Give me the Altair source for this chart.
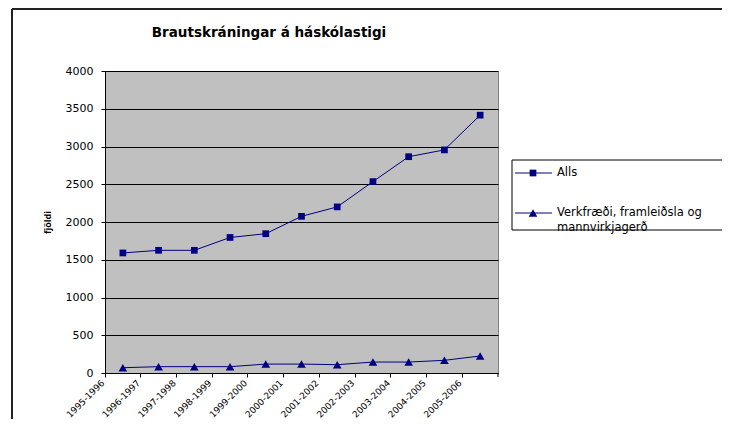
import altair as alt
import pandas as pd

title_text = "Brautskráningar á háskólastigi"
y_title = "fjöldi"
years = ["1995-1996", "1996-1997", "1997-1998", "1998-1999", "1999-2000", "2000-2001",
         "2001-2002", "2002-2003", "2003-2004", "2004-2005", "2005-2006"]
series_names = ["Alls", "Verkfræði, framleiðsla og mannvirkjagerð"]
alls = [1590, 1625, 1625, 1795, 1845, 2075, 2200, 2535, 2865, 2955, 3415]
verk = [70, 84, 84, 84, 118, 118, 110, 145, 145, 168, 225]
y_ticks = [0, 500, 1000, 1500, 2000, 2500, 3000, 3500, 4000]

df = pd.DataFrame({
    "year": years * 2,
    "value": alls + verk,
    "series": [series_names[0]] * len(years) + [series_names[1]] * len(years),
})

W, H = 393, 302
PAD_L, PAD_T, PAD_R, PAD_B = 97, 63, 224, 46
NAVY = "#000080"
one = pd.DataFrame({"k": [0]})

x_enc = alt.X("year:N", sort=years,
              scale=alt.Scale(type="band", paddingInner=0, paddingOuter=0),
              axis=alt.Axis(title=None, labelAngle=-45, labelAlign="right",
                            labelBaseline="middle", bandPosition=0, tickSize=4,
                            labelPadding=4, labelOffset=-20, domainColor="black",
                            tickColor="black", labelColor="black", labelFont="DejaVu Sans",
                            labelFontSize=9, grid=False, labelOverlap=False))
y_enc = alt.Y("value:Q", scale=alt.Scale(domain=[0, 4000], nice=False, zero=True),
              axis=alt.Axis(values=y_ticks, format="d", grid=True, gridColor="black",
                            gridOpacity=1, gridWidth=1, tickSize=4, tickColor="black",
                            domainColor="black", labelColor="black",
                            labelFont="DejaVu Sans", labelFontSize=11,
                            labelPadding=8, title=y_title, titleFont="Open Sans",
                            titleFontSize=9, titleFontWeight="bold", titleColor="black",
                            titleAngle=-90, titleX=-58, titleY=H / 2,
                            titleAlign="center", titleBaseline="middle"))

color_enc = alt.Color("series:N", sort=series_names,
                      scale=alt.Scale(domain=series_names, range=[NAVY, NAVY]), legend=None)
shape_enc = alt.Shape("series:N", sort=series_names,
                      scale=alt.Scale(domain=series_names, range=["square", "triangle-up"]),
                      legend=None)
size_enc = alt.Size("series:N", sort=series_names,
                    scale=alt.Scale(domain=series_names, range=[45, 75]), legend=None)

lines = alt.Chart(df).mark_line(strokeWidth=1).encode(
    x=x_enc, y=y_enc, color=color_enc, detail="series:N")
points = alt.Chart(df).mark_point(filled=True, opacity=1).encode(
    x=x_enc, y=y_enc, color=color_enc, shape=shape_enc, size=size_enc)

end_tick = alt.Chart(one).mark_rule(color="black", strokeWidth=1).encode(
    x=alt.value(W), y=alt.value(H), y2=alt.value(H + 4))

border_top = alt.Chart(one).mark_rule(color="#222222", strokeWidth=2).encode(
    x=alt.value(-93), x2=alt.value(W + PAD_R + 20), y=alt.value(-62))
border_left = alt.Chart(one).mark_rule(color="#222222", strokeWidth=2).encode(
    x=alt.value(-93), y=alt.value(-62), y2=alt.value(H + PAD_B + 20))

title = alt.Chart(one).mark_text(font="DejaVu Sans", fontSize=13.5, fontWeight="bold",
                                 color="black", align="center", baseline="middle").encode(
    x=alt.value(164), y=alt.value(-38), text=alt.value(title_text))

legend_box = alt.Chart(one).mark_rect(fill="white", stroke="black", strokeWidth=1).encode(
    x=alt.value(407), x2=alt.value(W + PAD_R + 20), y=alt.value(89), y2=alt.value(159))

leg_layers = []
leg_y = [102, 142]
leg_shapes = ["square", "triangle-up"]
leg_sizes = [45, 75]
for name, yy, shp, sz in zip(series_names, leg_y, leg_shapes, leg_sizes):
    leg_layers.append(alt.Chart(one).mark_rule(color=NAVY, strokeWidth=1).encode(
        x=alt.value(410), x2=alt.value(447), y=alt.value(yy)))
    leg_layers.append(alt.Chart(one).mark_point(filled=True, size=sz, opacity=1,
                                                shape=shp, color=NAVY).encode(
        x=alt.value(428), y=alt.value(yy)))
    words = name.rsplit(" ", 1) if len(name) > 20 else [name]
    for i, w in enumerate(words):
        leg_layers.append(alt.Chart(one).mark_text(font="DejaVu Sans", fontSize=11.5,
                                                   color="black", align="left",
                                                   baseline="middle").encode(
            x=alt.value(452), y=alt.value(yy + 15 * i), text=alt.value(w)))

chart = alt.layer(lines, points, end_tick, border_top, border_left, title, legend_box,
                  *leg_layers).properties(
    width=W, height=H,
    autosize=alt.AutoSizeParams(type="none"),
    padding={"left": PAD_L, "top": PAD_T, "right": PAD_R, "bottom": PAD_B},
    background="white",
).configure_view(fill="#C0C0C0", stroke="#808080", strokeWidth=1)

chart.save("out.html", embed_options={"renderer": "svg", "actions": False})
